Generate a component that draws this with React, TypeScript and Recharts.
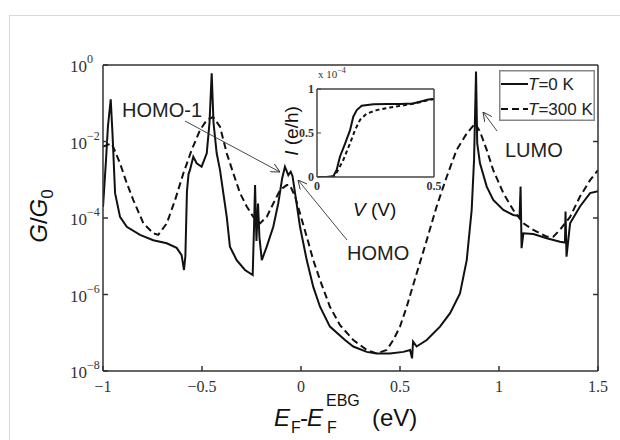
import { LineChart, Line, XAxis, YAxis } from "recharts";

// main panel: conductance vs energy (log scale)
const E_TICKS = [-1, -0.5, 0, 0.5, 1, 1.5];
const E_TICK_LABELS = ["\u22121", "\u22120.5", "0", "0.5", "1", "1.5"];
const G_TICKS = [1e-8, 1e-6, 1e-4, 1e-2, 1];
const G_TICK_EXP = ["\u22128", "\u22126", "\u22124", "\u22122", "0"];

const T0_E = [
  -1.0, -0.985, -0.975, -0.961, -0.952, -0.939, -0.914, -0.88, -0.813, -0.746,
  -0.678, -0.628, -0.603, -0.591, -0.584, -0.576, -0.568, -0.561, -0.544, -0.527,
  -0.502, -0.476, -0.462, -0.451, -0.442, -0.426, -0.409, -0.375, -0.359, -0.325,
  -0.283, -0.244, -0.237, -0.232, -0.225, -0.217, -0.21, -0.198, -0.173, -0.14,
  -0.115, -0.095, -0.081, -0.064, -0.052, -0.043, -0.03, -0.005, 0.029, 0.062,
  0.096, 0.146, 0.222, 0.264, 0.332, 0.382, 0.449, 0.517, 0.551, 0.561,
  0.566, 0.584, 0.635, 0.702, 0.753, 0.803, 0.837, 0.862, 0.874, 0.884,
  0.89, 0.904, 0.938, 0.971, 1.022, 1.072, 1.104, 1.109, 1.114, 1.123,
  1.173, 1.241, 1.308, 1.333, 1.336, 1.341, 1.359, 1.409, 1.46, 1.5,
];
const T0_G = [
  1.95e-4, 3.16e-3, 2.51e-2, 0.126, 1.58e-2, 4.47e-4, 1.07e-4, 5.89e-5, 3.63e-5, 2.63e-5,
  2.19e-5, 1.66e-5, 1.07e-5, 4.37e-6, 1e-5, 5.0e-4, 1.41e-3, 1.78e-3, 3.98e-3, 2.69e-3,
  2.19e-3, 4.9e-3, 3.16e-2, 0.603, 3.16e-2, 5.01e-3, 1.78e-3, 1.07e-4, 1.78e-5, 7.94e-6,
  4.37e-6, 3.24e-6, 6.31e-5, 7.24e-4, 2.51e-5, 2.4e-4, 3.16e-5, 7.94e-6, 1.78e-5, 5.89e-5,
  2.4e-4, 1.1e-3, 2.19e-3, 1.32e-3, 1.62e-3, 1.26e-3, 4.47e-4, 5.89e-5, 7.94e-6, 1.58e-6,
  4.79e-7, 1.45e-7, 6.46e-8, 4.37e-8, 3.16e-8, 2.88e-8, 2.88e-8, 3.16e-8, 3.55e-8, 2.14e-8,
  5.89e-8, 4.37e-8, 6.46e-8, 1.45e-7, 3.24e-7, 1.07e-6, 7.94e-6, 1.62e-4, 3.31e-3, 0.676,
  8.91e-3, 2.69e-3, 6.61e-4, 2.95e-4, 1.62e-4, 1.2e-4, 1.12e-4, 6.61e-4, 1.62e-5, 3.98e-5,
  3.8e-5, 2.95e-5, 2.4e-5, 2.29e-5, 1.48e-4, 9.77e-6, 7.24e-5, 2.0e-4, 4.47e-4, 5.01e-4,
];

const T300_E = [
  -1.0, -0.956, -0.914, -0.88, -0.847, -0.796, -0.746, -0.721, -0.678, -0.636,
  -0.594, -0.552, -0.51, -0.476, -0.444, -0.409, -0.375, -0.342, -0.308, -0.274,
  -0.241, -0.207, -0.173, -0.14, -0.106, -0.072, -0.056, -0.03, -0.005, 0.029,
  0.062, 0.096, 0.146, 0.197, 0.264, 0.332, 0.382, 0.433, 0.466, 0.5,
  0.534, 0.584, 0.635, 0.685, 0.736, 0.786, 0.837, 0.879, 0.904, 0.938,
  0.971, 1.022, 1.072, 1.123, 1.173, 1.241, 1.274, 1.308, 1.359, 1.409,
  1.46, 1.5,
];
const T300_G = [
  7.41e-3, 8.91e-3, 2.69e-3, 8.13e-4, 2.95e-4, 7.24e-5, 3.98e-5, 3.63e-5, 7.24e-5, 2.95e-4,
  1.48e-3, 6.03e-3, 2.0e-2, 3.63e-2, 4.37e-2, 2.45e-2, 4.9e-3, 1.48e-3, 4.47e-4, 2.0e-4,
  1.07e-4, 7.24e-5, 1.07e-4, 2.4e-4, 5.37e-4, 7.24e-4, 7.24e-4, 3.63e-4, 1.32e-4, 3.24e-5,
  7.94e-6, 2.4e-6, 4.79e-7, 1.58e-7, 6.46e-8, 3.55e-8, 2.88e-8, 3.55e-8, 6.46e-8, 1.45e-7,
  4.79e-7, 3.55e-6, 2.63e-5, 2.0e-4, 1.2e-3, 6.03e-3, 1.62e-2, 2.95e-2, 1.82e-2, 6.03e-3,
  1.78e-3, 4.47e-4, 1.62e-4, 7.24e-5, 4.9e-5, 3.24e-5, 3.24e-5, 4.9e-5, 1.07e-4, 3.63e-4,
  9.77e-4, 1.78e-3,
];

const SERIES_NAMES = ["T=0 K", "T=300 K"];
const SERIES_DASH = ["", "7 4"];

// inset: current vs voltage (x 10^-4 e/h)
const V_TICKS = [0, 0.5];
const I_TICKS = [0, 0.5, 1];
const IV_T0_V = [0, 0.04, 0.07, 0.084, 0.098, 0.12, 0.141, 0.155, 0.17, 0.191, 0.241, 0.3, 0.355, 0.41, 0.44, 0.476, 0.5];
const IV_T0_I = [0, 0, 0.01, 0.08, 0.23, 0.38, 0.53, 0.685, 0.76, 0.81, 0.826, 0.83, 0.83, 0.835, 0.856, 0.88, 0.885];
const IV_T300_V = [0, 0.05, 0.075, 0.084, 0.112, 0.141, 0.162, 0.184, 0.212, 0.255, 0.312, 0.383, 0.44, 0.483, 0.5];
const IV_T300_I = [0, 0, 0.01, 0.05, 0.19, 0.38, 0.53, 0.65, 0.72, 0.76, 0.79, 0.82, 0.85, 0.88, 0.885];

const t0 = T0_E.map((e, i) => ({ e, g: T0_G[i] }));
const t300 = T300_E.map((e, i) => ({ e, g: T300_G[i] }));
const iv0 = IV_T0_V.map((v, i) => ({ v, c: IV_T0_I[i] }));
const iv300 = IV_T300_V.map((v, i) => ({ v, c: IV_T300_I[i] }));

const SERIF = "'Liberation Serif', 'Times New Roman', serif";
const SANS = "'Liberation Sans', Arial, sans-serif";
const AXIS = "#333";

const XTick = ({ x, y, payload }: any) => (
  <text x={x} y={y} textAnchor="middle" fontFamily={SERIF} fontSize={16} fill="#333">
    {E_TICK_LABELS[E_TICKS.indexOf(payload.value)]}
  </text>
);

const YTick = ({ x, y, payload }: any) => (
  <text x={x} y={y + 7} textAnchor="start" fontFamily={SERIF} fontSize={17} fill="#333">
    10
    <tspan dy={-9} fontSize={12}>
      {G_TICK_EXP[G_TICKS.indexOf(payload.value)]}
    </tspan>
  </text>
);

const InsetXTick = ({ x, y, payload }: any) => (
  <text x={x} y={y} textAnchor="middle" fontFamily={SERIF} fontSize={12} fontWeight={600} fill="#333">
    {payload.value}
  </text>
);

const InsetYTick = ({ x, y, payload }: any) => (
  <text x={x} y={y + 4} textAnchor="end" fontFamily={SERIF} fontSize={12} fontWeight={600} fill="#333">
    {payload.value}
  </text>
);

const NoTick = () => <g />;

export default function App() {
  return (
    <div style={{ position: "absolute", left: 0, top: 0, width: 620, height: 440, overflow: "hidden", background: "#fff" }}>
      <div style={{ position: "absolute", left: 0, top: 0 }}>
        <LineChart width={620} height={440} margin={{ top: 55, right: 12, bottom: 39, left: 43 }}>
          <XAxis dataKey="e" type="number" domain={[-1, 1.5]} ticks={E_TICKS} interval={0}
            allowDataOverflow height={30} tickSize={-5} tickMargin={26} tick={XTick}
            axisLine={{ stroke: AXIS, strokeWidth: 1.5 }} tickLine={{ stroke: AXIS, strokeWidth: 1.5 }} />
          <XAxis xAxisId="top" orientation="top" type="number" domain={[-1, 1.5]} ticks={[-0.5, 0, 0.5, 1]}
            interval={0} allowDataOverflow height={10} tickSize={-5} tick={NoTick}
            axisLine={{ stroke: AXIS, strokeWidth: 1.5 }} tickLine={{ stroke: AXIS, strokeWidth: 1.5 }} />
          <YAxis scale="log" type="number" domain={[1e-8, 1]} ticks={G_TICKS} interval={0}
            allowDataOverflow width={60} tickSize={-5} tickMargin={38} tick={YTick}
            axisLine={{ stroke: AXIS, strokeWidth: 1.5 }} tickLine={{ stroke: AXIS, strokeWidth: 1.5 }} />
          <YAxis yAxisId="right" orientation="right" scale="log" type="number" domain={[1e-8, 1]}
            ticks={[1e-6, 1e-4, 1e-2]} interval={0} allowDataOverflow width={10} tickSize={-5} tick={NoTick}
            axisLine={{ stroke: AXIS, strokeWidth: 1.5 }} tickLine={{ stroke: AXIS, strokeWidth: 1.5 }} />
          <Line data={t0} dataKey="g" name={SERIES_NAMES[0]} type="linear" stroke="#111" strokeWidth={2}
            dot={false} isAnimationActive={false} />
          <Line data={t300} dataKey="g" name={SERIES_NAMES[1]} type="linear" stroke="#111" strokeWidth={2}
            strokeDasharray={SERIES_DASH[1]} dot={false} isAnimationActive={false} />
        </LineChart>
      </div>

      <div style={{ position: "absolute", left: 0, top: 0 }}>
        <LineChart width={620} height={440} margin={{ top: 79, right: 176, bottom: 243, left: 297 }}>
          <XAxis dataKey="v" type="number" domain={[0, 0.5]} ticks={V_TICKS} interval={0}
            allowDataOverflow height={20} tickSize={-4} tickMargin={17} tick={InsetXTick}
            axisLine={{ stroke: "#444", strokeWidth: 1.5 }} tickLine={false} />
          <XAxis xAxisId="top" orientation="top" type="number" domain={[0, 0.5]} ticks={V_TICKS}
            height={10} tick={NoTick} axisLine={{ stroke: "#444", strokeWidth: 1.5 }} tickLine={false} />
          <YAxis type="number" domain={[0, 1]} ticks={I_TICKS} interval={0} allowDataOverflow width={20}
            tickSize={-4} tickMargin={7} tick={InsetYTick}
            axisLine={{ stroke: "#444", strokeWidth: 1.5 }} tickLine={{ stroke: "#444", strokeWidth: 1 }} />
          <YAxis yAxisId="right" orientation="right" type="number" domain={[0, 1]} ticks={[0.5]} width={10}
            tickSize={-4} tick={NoTick}
            axisLine={{ stroke: "#444", strokeWidth: 1.5 }} tickLine={{ stroke: "#444", strokeWidth: 1 }} />
          <Line data={iv0} dataKey="c" type="linear" stroke="#111" strokeWidth={2} dot={false} isAnimationActive={false} />
          <Line data={iv300} dataKey="c" type="linear" stroke="#111" strokeWidth={2} strokeDasharray="4 3"
            dot={false} isAnimationActive={false} />
        </LineChart>
      </div>

      <svg width={620} height={440} style={{ position: "absolute", left: 0, top: 0, pointerEvents: "none" }}>
        <defs>
          <marker id="arr" viewBox="0 0 10 10" refX={10} refY={5} markerWidth={9} markerHeight={9}
            orient="auto" markerUnits="userSpaceOnUse">
            <path d="M0,0 L10,5 L0,10" fill="none" stroke="#333" strokeWidth={1} />
          </marker>
        </defs>
        <rect x={9.5} y={15.5} width={700} height={500} fill="none" stroke="#d8d8d8" strokeWidth={1} />

        {/* legend */}
        <g transform="translate(499,70)">
          <rect x={0.75} y={0.75} width={94.5} height={49.5} fill="#fff" stroke="#888" strokeWidth={1.5} />
          {SERIES_NAMES.map((name, i) => {
            const y = 14 + i * 25;
            return (
              <g key={name}>
                <line x1={2} x2={29} y1={y} y2={y} stroke="#111" strokeWidth={2}
                  strokeDasharray={SERIES_DASH[i] || undefined} />
                <text x={29} y={y + 6} fontFamily={SANS} fontSize={17} fill="#222">
                  <tspan fontStyle="italic">{name.slice(0, 1)}</tspan>
                  {name.slice(1)}
                </text>
              </g>
            );
          })}
        </g>

        {/* axis titles */}
        <g transform="translate(47,216) rotate(-90)">
          <text x={0} y={0} textAnchor="middle" fontFamily={SANS} fontSize={24} fill="#111">
            <tspan fontStyle="italic">G</tspan>/<tspan fontStyle="italic">G</tspan>
            <tspan dy={6} fontSize={17}>0</tspan>
          </text>
        </g>
        <g fontFamily={SANS} fill="#111">
          <text x={274} y={426} fontSize={24} fontStyle="italic">E</text>
          <text x={291} y={433} fontSize={16}>F</text>
          <text x={300} y={426} fontSize={24}>-</text>
          <text x={307} y={426} fontSize={24} fontStyle="italic">E</text>
          <text x={326} y={406} fontSize={16}>EBG</text>
          <text x={327} y={433} fontSize={16}>F</text>
          <text x={372} y={426} fontSize={24}>(eV)</text>
        </g>

        {/* inset titles */}
        <g transform="translate(298,131) rotate(-90)">
          <text x={0} y={0} textAnchor="middle" fontFamily={SANS} fontSize={19} fill="#111">
            <tspan fontStyle="italic">I</tspan>
            <tspan> (e/h)</tspan>
          </text>
        </g>
        <text x={353} y={216} fontFamily={SANS} fontSize={19} fill="#111">
          <tspan fontStyle="italic">V</tspan>
          <tspan> (V)</tspan>
        </text>
        <text x={318} y={78} fontFamily={SERIF} fontSize={11} fill="#333">
          x 10<tspan dy={-5} fontSize={8}>{"\u22124"}</tspan>
        </text>

        {/* level annotations */}
        <g stroke="#333" strokeWidth={0.9}>
          <line x1={185} y1={121} x2={280} y2={172} markerEnd="url(#arr)" />
          <line x1={347} y1={240} x2={298} y2={180} markerEnd="url(#arr)" />
          <line x1={497} y1={131} x2={483} y2={112} markerEnd="url(#arr)" />
        </g>
        <g fontFamily={SANS} fontSize={20} fill="#222">
          <text x={122} y={117}>HOMO-1</text>
          <text x={347} y={260}>HOMO</text>
          <text x={505} y={157}>LUMO</text>
        </g>
      </svg>
    </div>
  );
}
